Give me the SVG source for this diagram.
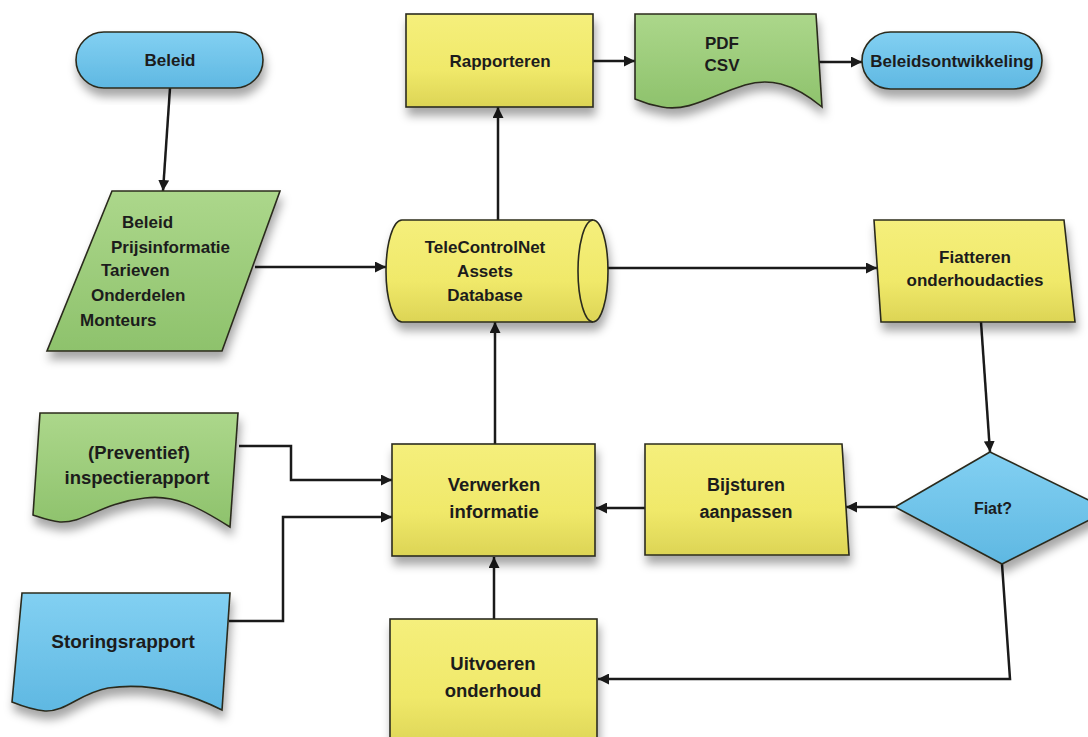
<svg xmlns="http://www.w3.org/2000/svg" width="1088" height="737" viewBox="0 0 1088 737">
  <defs>
    <linearGradient id="gy" x1="0" y1="0" x2="0" y2="1">
      <stop offset="0" stop-color="#f5ef7c"/>
      <stop offset="0.6" stop-color="#f0e96a"/>
      <stop offset="1" stop-color="#dcd455"/>
    </linearGradient>
    <linearGradient id="gg" x1="0" y1="0" x2="0" y2="1">
      <stop offset="0" stop-color="#acd78b"/>
      <stop offset="1" stop-color="#8ec26c"/>
    </linearGradient>
    <linearGradient id="gb" x1="0" y1="0" x2="0" y2="1">
      <stop offset="0" stop-color="#82d0f2"/>
      <stop offset="1" stop-color="#5fb8e2"/>
    </linearGradient>
    <filter id="sh" x="-20%" y="-20%" width="140%" height="150%">
      <feDropShadow dx="2" dy="8" stdDeviation="5" flood-color="#000" flood-opacity="0.35"/>
    </filter>
    <marker id="ah" markerUnits="userSpaceOnUse" markerWidth="12" markerHeight="11" refX="11" refY="5.5" orient="auto">
      <path d="M0,0 L11,5.5 L0,11 z" fill="#1a1a1a"/>
    </marker>
  </defs>
  <style>
    .y { fill: url(#gy); stroke: #2b2b1e; stroke-width: 1.6; filter: url(#sh); }
    .g { fill: url(#gg); stroke: #2b2b1e; stroke-width: 1.6; filter: url(#sh); }
    .b { fill: url(#gb); stroke: #2b2b1e; stroke-width: 1.6; filter: url(#sh); }
    .t { font-family: "Liberation Sans", Arial, sans-serif; font-weight: bold; font-size: 17px; fill: #1c1c1c; text-anchor: middle; }
    .l { text-anchor: start; }
    .big { font-size: 18.5px; }
    .c { fill: none; stroke: #1a1a1a; stroke-width: 2.5; marker-end: url(#ah); }
  </style>
  <rect width="1088" height="737" fill="#ffffff"/>

  <g id="connectors">
    <path class="c" d="M170,88 L163,191"/>
    <path class="c" d="M255,267 L386,267"/>
    <path class="c" d="M498,220 L498,107"/>
    <path class="c" d="M593,61 L635,61"/>
    <path class="c" d="M818,62 L862,62"/>
    <path class="c" d="M595,268 L877,268"/>
    <path class="c" d="M981,322 L990,452"/>
    <path class="c" d="M895,507 L846,507"/>
    <path class="c" d="M645,508 L596,508"/>
    <path class="c" d="M1002,564 L1010,679 L598,679"/>
    <path class="c" d="M494,619 L494,557"/>
    <path class="c" d="M495,444 L495,322"/>
    <path class="c" d="M239,446 L291,446 L291,480 L392,480"/>
    <path class="c" d="M229,621 L283,621 L283,517 L392,517"/>
  </g>

  <g id="beleid">
    <rect class="b" x="76" y="32" width="187" height="56" rx="28"/>
    <text class="t" x="170" y="66">Beleid</text>
  </g>

  <g id="invoer">
    <polygon class="g" points="112,191 280,191 222,351 47,351"/>
    <text class="t l" x="122" y="228">Beleid</text>
    <text class="t l" x="111" y="253">Prijsinformatie</text>
    <text class="t l" x="101" y="276">Tarieven</text>
    <text class="t l" x="91" y="301">Onderdelen</text>
    <text class="t l" x="80" y="326">Monteurs</text>
  </g>

  <g id="rapporteren">
    <rect class="y" x="406" y="14" width="187" height="93"/>
    <text class="t" x="500" y="67">Rapporteren</text>
  </g>

  <g id="pdfcsv">
    <path class="g" d="M635,14 L816,14 L822,107 C792,82 768,78 745,85 C712,95 690,112 662,107 C650,105 642,102 635,99 Z"/>
    <text class="t" x="722" y="49">PDF</text>
    <text class="t" x="722" y="71">CSV</text>
  </g>

  <g id="beleidsontwikkeling">
    <rect class="b" x="862" y="32" width="180" height="57" rx="28.5"/>
    <text class="t" x="952" y="67">Beleidsontwikkeling</text>
  </g>

  <g id="database">
    <path class="y" d="M402,220 L593,220 A15,51 0 0 1 593,322 L402,322 A16,51 0 0 1 402,220 Z"/>
    <path d="M593,220 A15,51 0 0 0 593,322" fill="none" stroke="#2b2b1e" stroke-width="1.6"/>
    <text class="t" x="485" y="253">TeleControlNet</text>
    <text class="t" x="485" y="277">Assets</text>
    <text class="t" x="485" y="301">Database</text>
  </g>

  <g id="fiatteren">
    <polygon class="y" points="874,220 1064,220 1075,322 881,322"/>
    <text class="t" x="975" y="263">Fiatteren</text>
    <text class="t" x="975" y="286">onderhoudacties</text>
  </g>

  <g id="fiat">
    <polygon class="b" points="990,452 1109,510 1002,564 895,507"/>
    <text class="t" x="993" y="514" style="font-size:16px">Fiat?</text>
  </g>

  <g id="bijsturen">
    <polygon class="y" points="645,444 842,444 849,555 645,555"/>
    <text class="t" x="746" y="491" style="font-size:18px">Bijsturen</text>
    <text class="t" x="746" y="518" style="font-size:18px">aanpassen</text>
  </g>

  <g id="verwerken">
    <rect class="y" x="392" y="444" width="203" height="112"/>
    <text class="t big" x="494" y="491">Verwerken</text>
    <text class="t big" x="494" y="518">informatie</text>
  </g>

  <g id="uitvoeren">
    <rect class="y" x="390" y="619" width="207" height="130"/>
    <text class="t big" x="493" y="670">Uitvoeren</text>
    <text class="t big" x="493" y="697">onderhoud</text>
  </g>

  <g id="inspectierapport">
    <path class="g" d="M40,413 L238,413 L230,527 C200,508 175,494 145,498 C100,503 85,523 60,522 C50,521 42,518 33,515 Z"/>
    <text class="t big" x="139" y="459">(Preventief)</text>
    <text class="t big" x="137" y="484">inspectierapport</text>
  </g>

  <g id="storingsrapport">
    <path class="b" d="M22,593 L230,593 L222,710 C190,694 150,682 108,688 C80,693 66,712 45,711 C33,710 22,706 12,702 Z"/>
    <text class="t" x="123" y="648" style="font-size:19px">Storingsrapport</text>
  </g>
</svg>
